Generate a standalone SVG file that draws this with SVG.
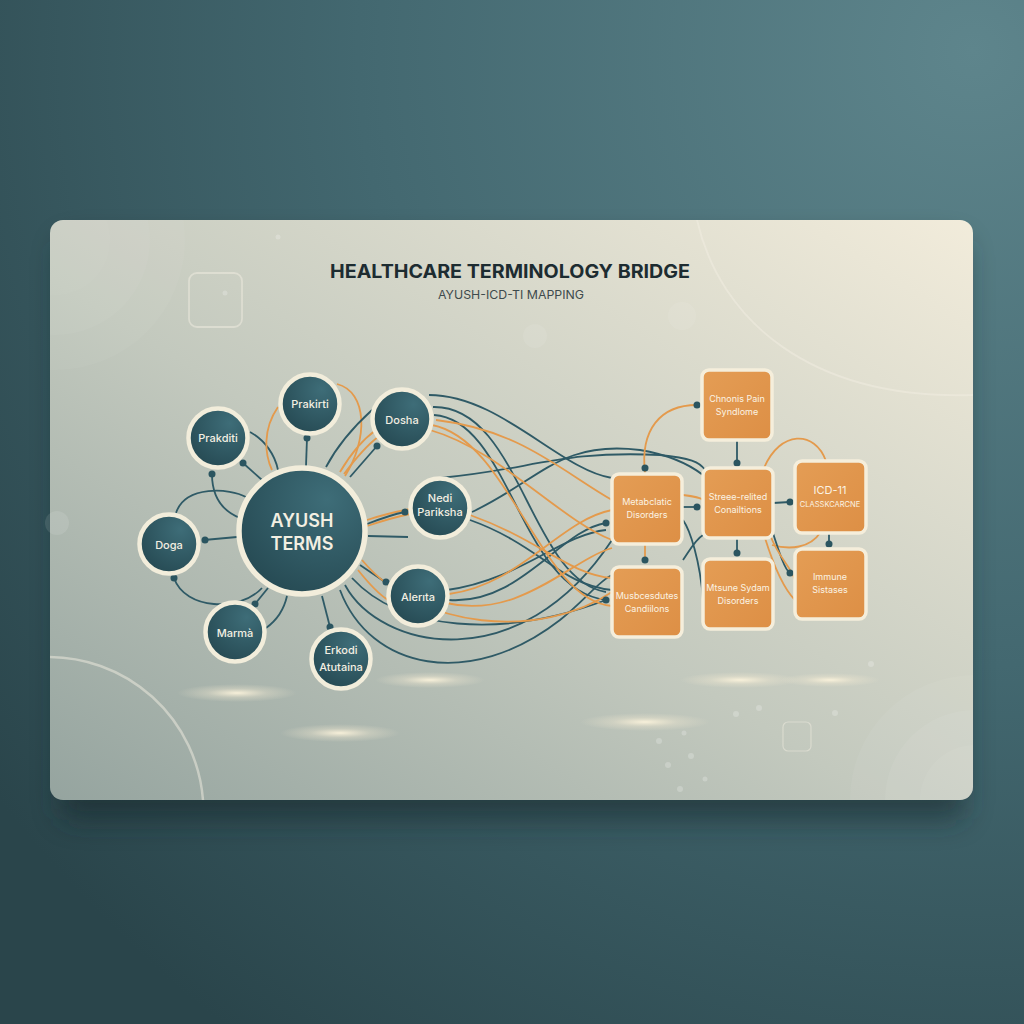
<svg xmlns="http://www.w3.org/2000/svg" width="1024" height="1024" viewBox="0 0 1024 1024">
<defs>
<radialGradient id="bg" cx="0.95" cy="0.05" r="1.2">
<stop offset="0" stop-color="#5e858c"/>
<stop offset="0.5" stop-color="#436870"/>
<stop offset="1" stop-color="#2a454b"/>
</radialGradient>
<linearGradient id="card" x1="0" y1="1" x2="1" y2="0">
<stop offset="0" stop-color="#95a49f"/>
<stop offset="0.45" stop-color="#c3c9be"/>
<stop offset="1" stop-color="#f2ecdb"/>
</linearGradient>
<radialGradient id="node" cx="0.7" cy="0.25" r="0.9">
<stop offset="0" stop-color="#3e6d78"/>
<stop offset="1" stop-color="#244750"/>
</radialGradient>
<linearGradient id="box" x1="0" y1="0" x2="1" y2="1">
<stop offset="0" stop-color="#e49d55"/>
<stop offset="1" stop-color="#dd8f45"/>
</linearGradient>
<radialGradient id="glow">
<stop offset="0" stop-color="#fbf3dc" stop-opacity="0.95"/>
<stop offset="0.5" stop-color="#f3ead2" stop-opacity="0.35"/>
<stop offset="1" stop-color="#f3ead2" stop-opacity="0"/>
</radialGradient>
<filter id="shadow" x="-10%" y="-10%" width="120%" height="130%">
<feGaussianBlur stdDeviation="14"/>
</filter>
<clipPath id="cc"><rect x="50" y="220" width="923" height="580" rx="13"/></clipPath>
<style>
.n{fill:url(#node);stroke:#f2eddb;stroke-width:4.5}
.b{fill:url(#box);stroke:#f5eedb;stroke-width:3.5}
.nt{font-family:Inter,"Liberation Sans",sans-serif;font-size:11px;fill:#f3efe2;text-anchor:middle;font-weight:500}
.big{font-size:18px;font-weight:600}
.bt{font-family:Inter,"Liberation Sans",sans-serif;font-size:9px;fill:#fbf3e3;text-anchor:middle}
.t{fill:none;stroke:#2f5a66;stroke-width:1.8}
.o{fill:none;stroke:#e49a4c;stroke-width:1.8}
.d{fill:#2b5560}
.deco{fill:none;stroke:#f2eee2;stroke-opacity:0.5}
</style>
</defs>
<rect width="1024" height="1024" fill="url(#bg)"/>
<rect x="60" y="240" width="905" height="580" rx="14" fill="#16282c" opacity="0.55" filter="url(#shadow)"/>
<rect x="50" y="220" width="923" height="580" rx="13" fill="url(#card)"/>
<g id="decor">
<g clip-path="url(#cc)">
<circle cx="55" cy="240" r="130" fill="#ffffff" fill-opacity="0.04"/>
<circle cx="55" cy="240" r="95" fill="#ffffff" fill-opacity="0.04"/>
<circle cx="55" cy="240" r="55" fill="#ffffff" fill-opacity="0.03"/>
<circle cx="975" cy="800" r="125" fill="#ffffff" fill-opacity="0.05"/>
<circle cx="975" cy="800" r="90" fill="#ffffff" fill-opacity="0.06"/>
<circle cx="975" cy="800" r="55" fill="#ffffff" fill-opacity="0.05"/>
<path d="M45,657 A155,155 0 0 1 203,800" class="deco" stroke-width="2.5" stroke-opacity="0.55"/>
<path d="M697,220 C720,320 810,400 973,395" class="deco" stroke-width="2" stroke-opacity="0.3"/>
</g>
<rect x="189" y="273" width="53" height="54" rx="8" class="deco" stroke-width="1.8"/>
<rect x="783" y="722" width="28" height="29" rx="5" class="deco" stroke-width="1.2" stroke-opacity="0.35"/>
<circle cx="535" cy="336" r="12" fill="#ffffff" fill-opacity="0.08"/>
<circle cx="682" cy="316" r="14" fill="#ffffff" fill-opacity="0.08"/>
<circle cx="57" cy="523" r="12" fill="#ffffff" fill-opacity="0.1"/>
<g fill="#ffffff" fill-opacity="0.22">
<circle cx="736" cy="714" r="3"/><circle cx="759" cy="708" r="3"/><circle cx="659" cy="741" r="3"/><circle cx="684" cy="733" r="2.5"/>
<circle cx="668" cy="765" r="3"/><circle cx="691" cy="756" r="3"/><circle cx="705" cy="779" r="2.5"/><circle cx="680" cy="789" r="3"/>
<circle cx="835" cy="713" r="3"/><circle cx="871" cy="664" r="3"/>
<circle cx="225" cy="293" r="2.5"/><circle cx="278" cy="237" r="2.5"/>
</g>
<ellipse cx="237" cy="693" rx="60" ry="9" fill="url(#glow)"/>
<ellipse cx="430" cy="680" rx="55" ry="8" fill="url(#glow)"/>
<ellipse cx="340" cy="733" rx="60" ry="9" fill="url(#glow)"/>
<ellipse cx="645" cy="722" rx="65" ry="9" fill="url(#glow)"/>
<ellipse cx="740" cy="680" rx="60" ry="8" fill="url(#glow)"/>
<ellipse cx="830" cy="680" rx="50" ry="7" fill="url(#glow)"/>
</g>
<g id="title">
<text x="510" y="278" font-family="Inter,'Liberation Sans',sans-serif" font-size="18.5" font-weight="700" fill="#1d2c31" text-anchor="middle" textLength="360" lengthAdjust="spacingAndGlyphs">HEALTHCARE TERMINOLOGY BRIDGE</text>
<text x="511" y="299" font-family="Inter,'Liberation Sans',sans-serif" font-size="11.5" fill="#3e4a4c" text-anchor="middle" textLength="146" lengthAdjust="spacingAndGlyphs">AYUSH-ICD-TI MAPPING</text>
</g>
<g id="connectors">
<path class="t" d="M262,480 L243,463"/>
<path class="t" d="M212,474 C212,500 225,512 240,518"/>
<path class="t" d="M250,432 C265,440 275,455 278,470"/>
<path class="t" d="M237,537 L204,540"/>
<path class="t" d="M176,513 C185,485 230,488 246,497"/>
<path class="t" d="M174,578 C185,610 240,612 262,588"/>
<path class="t" d="M268,588 L255,604"/>
<path class="t" d="M266,628 C280,618 285,605 287,596"/>
<path class="t" d="M322,596 L330,627"/>
<path class="t" d="M306,466 L307,438"/>
<path class="o" d="M278,407 C262,430 265,455 272,470"/>
<path class="o" d="M337,384 C368,392 368,440 345,476"/>
<path class="t" d="M350,477 L377,446"/>
<path class="t" d="M326,467 C335,450 350,430 372,410"/>
<path class="o" d="M340,472 C350,455 362,440 376,430"/>
<path class="o" d="M344,474 C356,458 366,446 378,437"/>
<path class="o" d="M367,520 C385,514 395,512 410,509"/>
<path class="o" d="M367,526 C385,520 395,517 410,514"/>
<path class="t" d="M367,524 C385,517 395,514 405,512"/>
<path class="t" d="M368,536 L408,537"/>
<path class="t" d="M360,565 L385,582"/>
<path class="o" d="M358,570 C370,585 380,595 388,600"/>
<path class="t" d="M433,407 C520,405 530,580 606,592"/>
<path class="t" d="M434,415 C510,420 520,590 606,600"/>
<path class="t" d="M429,395 C500,395 560,470 612,478"/>
<path class="t" d="M472,512 C540,480 560,440 640,450 C670,455 690,465 703,475"/>
<path class="t" d="M470,520 C540,545 560,585 612,590"/>
<path class="t" d="M449,600 C520,605 560,530 606,523"/>
<path class="t" d="M447,590 C520,580 560,535 606,530"/>
<path class="t" d="M345,585 C380,650 520,680 612,540"/>
<path class="t" d="M340,590 C370,670 470,690 560,620 C585,600 600,580 612,575"/>
<path class="t" d="M352,578 C400,630 500,640 606,600"/>
<path class="t" d="M440,478 C530,470 560,450 660,455 C690,458 700,462 705,470"/>
<path class="o" d="M432,425 C510,440 540,600 612,606"/>
<path class="o" d="M430,430 C500,450 560,520 612,540"/>
<path class="o" d="M470,515 C540,540 570,575 612,578"/>
<path class="o" d="M449,594 C520,585 560,520 612,510"/>
<path class="o" d="M446,603 C520,620 570,560 612,548"/>
<path class="o" d="M362,560 C420,630 540,640 612,592"/>
<path class="o" d="M436,420 C520,430 560,470 612,500"/>
<path class="o" d="M645,473 C640,430 660,405 697,405"/>
<path class="t" d="M737,440 L737,463"/>
<path class="t" d="M773,503 L790,502"/>
<path class="o" d="M764,468 C780,430 815,430 826,461"/>
<path class="t" d="M829,533 L829,544"/>
<path class="o" d="M820,533 C810,548 790,550 772,545"/>
<path class="o" d="M645,545 L645,560"/>
<path class="t" d="M737,539 L737,553"/>
<path class="t" d="M772,530 C780,555 785,570 790,573"/>
<path class="o" d="M770,535 C780,560 790,565 795,580"/>
<path class="o" d="M765,538 C775,570 785,590 795,600"/>
<path class="t" d="M683,507 L697,507"/>
<path class="t" d="M683,520 C690,530 700,560 703,600"/>
<path class="o" d="M683,495 C700,497 703,500 703,500"/>
<path class="t" d="M683,560 C690,550 695,540 703,535"/>
<g class="d">
<circle cx="243" cy="463" r="3.5"/><circle cx="212" cy="474" r="3.5"/><circle cx="205" cy="540" r="3.5"/>
<circle cx="174" cy="578" r="3.5"/><circle cx="255" cy="604" r="3.5"/><circle cx="330" cy="627" r="3.5"/>
<circle cx="307" cy="438" r="3.5"/><circle cx="377" cy="446" r="3.5"/><circle cx="405" cy="512" r="3.5"/>
<circle cx="386" cy="582" r="3.5"/>
<circle cx="606" cy="523" r="3.5"/><circle cx="606" cy="600" r="3.5"/><circle cx="697" cy="405" r="3.5"/>
<circle cx="645" cy="468" r="3.5"/><circle cx="737" cy="463" r="3.5"/><circle cx="697" cy="507" r="3.5"/>
<circle cx="790" cy="502" r="3.5"/><circle cx="829" cy="544" r="3.5"/><circle cx="645" cy="560" r="3.5"/>
<circle cx="737" cy="553" r="3.5"/><circle cx="790" cy="573" r="3.5"/>
</g>
</g>
<g id="ayush"><circle cx="302" cy="531" r="63" class="n" style="stroke-width:5.5"/>
<text x="302" y="527" class="nt big">AYUSH</text>
<text x="302" y="550" class="nt big">TERMS</text></g>
<g id="prakriti-top"><circle cx="310" cy="404" r="29.5" class="n"/><text x="310" y="408" class="nt">Prakirti</text></g>
<g id="prakriti-left"><circle cx="218" cy="438" r="29.5" class="n"/><text x="218" y="442" class="nt">Prakditi</text></g>
<g id="dosha"><circle cx="402" cy="419" r="29.5" class="n"/><text x="402" y="424" class="nt">Dosha</text></g>
<g id="nadi"><circle cx="440" cy="508" r="29.5" class="n"/><text x="440" y="502" class="nt">Nedi</text><text x="440" y="516" class="nt">Pariksha</text></g>
<g id="alerta"><circle cx="418" cy="596" r="29.5" class="n"/><text x="418" y="601" class="nt">Alerıta</text></g>
<g id="erkodi"><circle cx="341" cy="659" r="29.5" class="n"/><text x="341" y="654" class="nt">Erkodi</text><text x="341" y="671" class="nt">Atutaina</text></g>
<g id="marma"><circle cx="235" cy="632" r="29.5" class="n"/><text x="235" y="637" class="nt">Marmà</text></g>
<g id="doga"><circle cx="169" cy="544" r="29.5" class="n"/><text x="169" y="549" class="nt">Doga</text></g>
<g id="chronic"><rect x="702" y="370" width="70" height="70" rx="7" class="b"/><text x="737" y="402" class="bt">Chnonis Pain</text><text x="737" y="415" class="bt">Syndlome</text></g>
<g id="metabolic"><rect x="612" y="474" width="70" height="70" rx="7" class="b"/><text x="647" y="505" class="bt">Metabclatic</text><text x="647" y="518" class="bt">Disorders</text></g>
<g id="stress"><rect x="703" y="468" width="70" height="70" rx="7" class="b"/><text x="738" y="500" class="bt">Streee-relited</text><text x="738" y="513" class="bt">Conailtions</text></g>
<g id="icd"><rect x="795" y="461" width="71" height="72" rx="7" class="b"/><text x="830" y="494" class="bt" style="font-size:11px">ICD-11</text><text x="830" y="507" class="bt" style="font-size:7.5px">CLASSKCARCNE</text></g>
<g id="musculo"><rect x="612" y="567" width="70" height="70" rx="7" class="b"/><text x="647" y="599" class="bt">Musbcesdutes</text><text x="647" y="612" class="bt">Candiilons</text></g>
<g id="mixture"><rect x="703" y="559" width="70" height="70" rx="7" class="b"/><text x="738" y="591" class="bt">Mtsune Sydam</text><text x="738" y="604" class="bt">Disorders</text></g>
<g id="immune"><rect x="795" y="549" width="71" height="70" rx="7" class="b"/><text x="830" y="580" class="bt">Immune</text><text x="830" y="593" class="bt">Sistases</text></g>
</svg>
